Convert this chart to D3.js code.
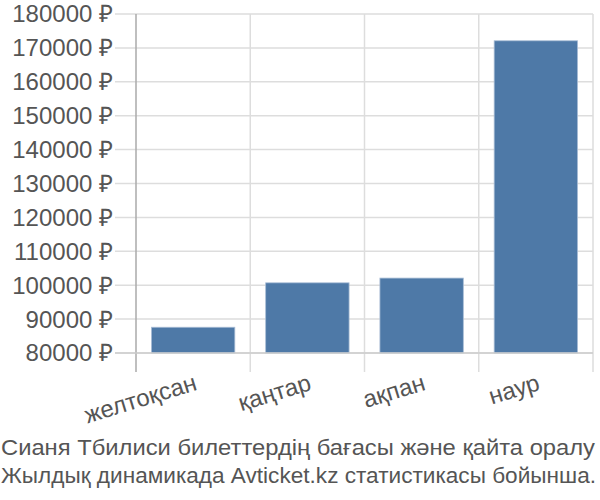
<!DOCTYPE html>
<html>
<head>
<meta charset="utf-8">
<script src="https://cdn.jsdelivr.net/npm/d3@7"></script>
<style>
  body { margin: 0; background: #fff; }
  text { font-family: "Liberation Sans", Arial, sans-serif; fill: #555; }
</style>
</head>
<body>
<div id="chart"></div>
<script>
// Data ///////////////////////////////////////////////////////////////////////

const months = ["желтоқсан", "қаңтар", "ақпан", "наур"];
const prices = [87600, 100700, 102100, 172100];
const yTicks = [80000, 90000, 100000, 110000, 120000, 130000, 140000, 150000, 160000, 170000, 180000];
const captionLines = [
    "Сианя Тбилиси билеттердің бағасы және қайта оралу",
    "Жылдық динамикада Avticket.kz статистикасы бойынша."
];

const params = {
    width: 600,
    height: 500,
    fontSize: 24,
    margin: { top: 14, right: 7, bottom: 147, left: 136 }
};
const innerW = params.width - params.margin.left - params.margin.right;
const innerH = params.height - params.margin.top - params.margin.bottom;

// Chart //////////////////////////////////////////////////////////////////////

const svg = d3.select("#chart")
    .append("svg")
        .attr("width", params.width)
        .attr("height", params.height)
        .attr("viewBox", [0, 0, params.width, params.height]);

const g = svg.append("g")
    .attr("transform", `translate(${params.margin.left}, ${params.margin.top})`);

const x = d3.scaleBand()
    .domain(months)
    .range([0, innerW])
    .paddingInner(0.27)
    .paddingOuter(0.135);

const y = d3.scaleLinear()
    .domain([80000, 180000])
    .range([innerH, 0]);

// horizontal grid + y labels
g.append("g")
    .selectAll("line")
    .data(yTicks)
    .join("line")
    .attr("x1", -21)
    .attr("x2", innerW)
    .attr("y1", d => y(d))
    .attr("y2", d => y(d))
    .attr("stroke", "#ddd")
    .attr("stroke-width", 1.5);

g.append("g")
    .selectAll("text")
    .data(yTicks)
    .join("text")
    .attr("x", -23)
    .attr("y", d => y(d))
    .attr("dy", "0.35em")
    .attr("text-anchor", "end")
    .attr("font-size", params.fontSize)
    .text(d => `${d} ₽`);

// vertical grid at band edges
const step = x.step();
const edges = d3.range(months.length + 1).map(i => i * step);
g.append("g")
    .selectAll("line")
    .data(edges)
    .join("line")
    .attr("x1", d => d)
    .attr("x2", d => d)
    .attr("y1", 0)
    .attr("y2", innerH + 19)
    .attr("stroke", (d, i) => i === 0 ? "#aaa" : "#ddd")
    .attr("stroke-width", 1.5);

// bars
g.append("g")
    .selectAll("rect")
    .data(months)
    .join("rect")
    .attr("x", d => x(d))
    .attr("width", x.bandwidth())
    .attr("y", (d, i) => y(prices[i]))
    .attr("height", (d, i) => innerH - y(prices[i]))
    .attr("fill", "#4e79a7")
    .attr("stroke", "#a9bdd6")
    .attr("stroke-width", 0.8);

// bottom axis line
g.append("line")
    .attr("x1", -21)
    .attr("x2", innerW)
    .attr("y1", innerH)
    .attr("y2", innerH)
    .attr("stroke", "#ccc")
    .attr("stroke-width", 1.5);

// x labels, rotated
g.append("g")
    .selectAll("text")
    .data(months)
    .join("text")
    .attr("transform", d => `translate(${x(d) + x.bandwidth() / 2}, ${innerH + 20}) rotate(-17)`)
    .attr("text-anchor", "end")
    .attr("dy", "0.72em")
    .attr("font-size", params.fontSize)
    .text(d => d);

// caption, fitted to the picture's width
svg.append("g")
    .selectAll("text")
    .data(captionLines)
    .join("text")
    .attr("x", 1)
    .attr("y", (d, i) => 455 + i * 28)
    .attr("font-size", 22.8)
    .attr("textLength", (d, i) => i === 0 ? 594 : 595)
    .attr("lengthAdjust", "spacingAndGlyphs")
    .text(d => d);
</script>
</body>
</html>
